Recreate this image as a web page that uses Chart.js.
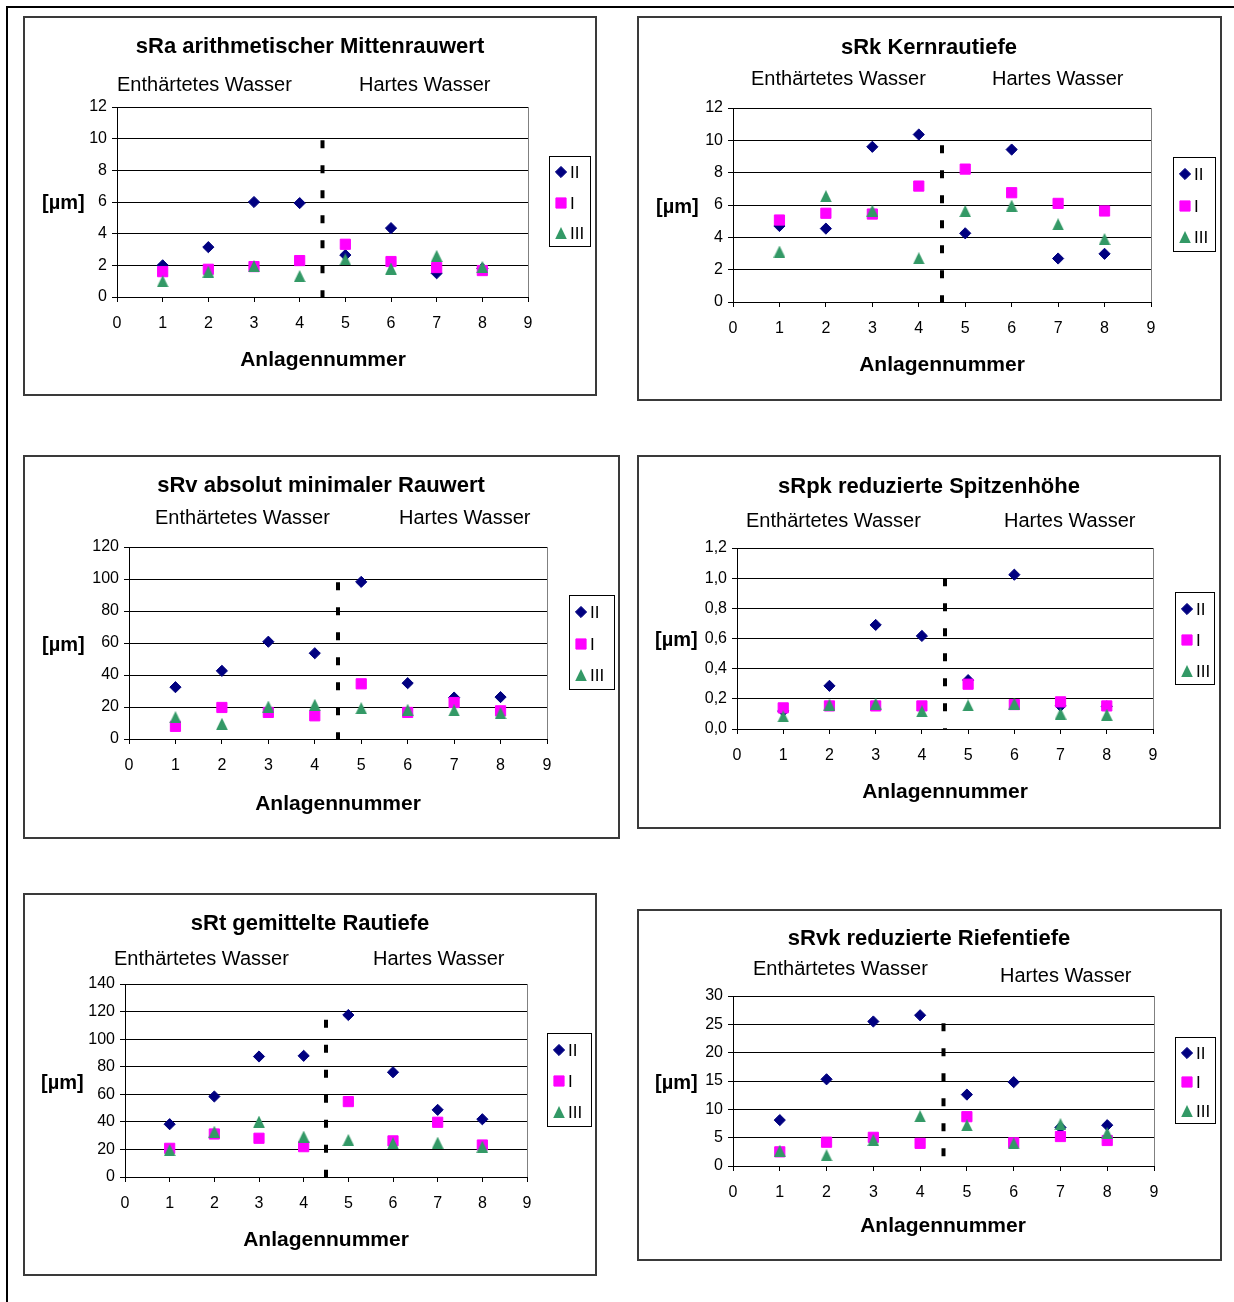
<!DOCTYPE html>
<html>
<head>
<meta charset="utf-8">
<script src="https://cdn.jsdelivr.net/npm/chart.js@4.4.1/dist/chart.umd.min.js"></script>
<style>
  html, body { margin: 0; padding: 0; background: #fff; }
  body { width: 1234px; height: 1302px; position: relative; overflow: hidden;
         font-family: 'Liberation Sans', Arial, sans-serif; color: #000; }
  .frameTop  { position: absolute; left: 6px; top: 6px; width: 1228px; height: 2px; background: #000; }
  .frameLeft { position: absolute; left: 6px; top: 6px; width: 2px; height: 1296px; background: #000; }
  .box { position: absolute; box-sizing: border-box; border: 2px solid #3a3a3a; background: #fff; }
  canvas { position: absolute; }
  .t { position: absolute; white-space: nowrap; line-height: 1; }
  .title { font-weight: bold; font-size: 22px; transform: translate(-50%, -50%); }
  .sub   { font-size: 20px; transform: translateY(-50%); }
  .ylab  { font-weight: bold; font-size: 20px; transform: translateY(-50%); }
  .xlab  { font-weight: bold; font-size: 21px; transform: translate(-50%, -50%); }
</style>
</head>
<body>
<div class="frameTop"></div>
<div class="frameLeft"></div>
<script>
// Anlagen (plants) 1-8; plants 1-4 softened water, 5-8 hard water
const anlagen = [1, 2, 3, 4, 5, 6, 7, 8];
const seriesNames = ['II', 'I', 'III'];
const xTickLabels = ['0', '1', '2', '3', '4', '5', '6', '7', '8', '9'];
const groupNames = ['Enthärtetes Wasser', 'Hartes Wasser'];
const xTitle = 'Anlagennummer';
const yTitle = '[µm]';

// sRa arithmetischer Mittenrauwert
const sRa_II  = [2.0, 3.15, 6.0, 5.93, 2.65, 4.35, 1.5, 1.8];
const sRa_I   = [1.6, 1.75, 1.92, 2.3, 3.33, 2.24, 1.86, 1.67];
const sRa_III = [1.0, 1.6, 1.95, 1.33, 2.38, 1.8, 2.6, 1.9];
const sRa_yTicks = ['0', '2', '4', '6', '8', '10', '12'];

// sRk Kernrautiefe
const sRk_II  = [4.7, 4.54, 9.6, 10.36, 4.25, 9.43, 2.69, 2.98];
const sRk_I   = [5.07, 5.49, 5.44, 7.17, 8.22, 6.76, 6.1, 5.63];
const sRk_III = [3.12, 6.55, 5.65, 2.71, 5.63, 5.96, 4.81, 3.9];
const sRk_yTicks = ['0', '2', '4', '6', '8', '10', '12'];

// sRv absolut minimaler Rauwert
const sRv_II  = [32.4, 42.6, 60.8, 53.6, 98.2, 34.9, 25.9, 26.2];
const sRv_I   = [7.9, 19.7, 16.6, 14.5, 34.5, 16.6, 22.8, 17.6];
const sRv_III = [13.7, 9.5, 20.3, 21.4, 19.3, 18.3, 17.9, 16.2];
const sRv_yTicks = ['0', '20', '40', '60', '80', '100', '120'];

// sRpk reduzierte Spitzenhöhe
const sRpk_II  = [0.12, 0.286, 0.69, 0.617, 0.324, 1.023, 0.153, 0.15];
const sRpk_I   = [0.14, 0.153, 0.153, 0.153, 0.297, 0.162, 0.18, 0.153];
const sRpk_III = [0.084, 0.162, 0.169, 0.118, 0.157, 0.169, 0.102, 0.095];
const sRpk_yTicks = ['0,0', '0,2', '0,4', '0,6', '0,8', '1,0', '1,2'];

// sRt gemittelte Rautiefe
const sRt_II  = [38.3, 58.4, 87.4, 87.9, 117.5, 76, 48.7, 41.9];
const sRt_I   = [20.8, 31.2, 28.1, 22, 54.7, 26.2, 39.7, 23.2];
const sRt_III = [19.6, 32.9, 40.2, 29.3, 26.9, 24.5, 24.9, 22];
const sRt_yTicks = ['0', '20', '40', '60', '80', '100', '120', '140'];

// sRvk reduzierte Riefentiefe
const sRvk_II  = [8.1, 15.3, 25.5, 26.6, 12.6, 14.8, 6.8, 7.2];
const sRvk_I   = [2.5, 4.2, 5.06, 4.0, 8.7, 4.1, 5.2, 4.5];
const sRvk_III = [2.7, 1.9, 4.6, 8.8, 7.2, 4.0, 7.4, 5.8];
const sRvk_yTicks = ['0', '5', '10', '15', '20', '25', '30'];

// axis ranges: [max, step]; divider between water types runs from 0 up to dividerTop
const yRanges = { ra: [12, 2], rk: [12, 2], rv: [120, 20], rpk: [1.2, 0.2], rt: [140, 20], rvk: [30, 5] };
const dividerX = 4.5;
const dividerTop = { ra: 9.9, rk: 9.7, rv: 98, rpk: 1.0, rt: 114, rvk: 25.2 };

const NAVY = '#000080', MAGENTA = '#FF00FF', GREEN = '#339966';
const FONT = "'Liberation Sans', Arial, sans-serif";

// panel layout (page pixels): box, plot area, legend rect, text anchors
const panels = [
  { key: 'ra', title: 'sRa arithmetischer Mittenrauwert', data: [sRa_II, sRa_I, sRa_III], yTicks: sRa_yTicks,
    box: [23, 16, 597, 396], plot: [117, 107, 528, 297], legend: [549, 156, 42, 91],
    titleAt: [310, 46], sub1: [117, 84], sub2: [359, 84], ylab: [42, 202], xlab: [323, 358] },
  { key: 'rk', title: 'sRk Kernrautiefe', data: [sRk_II, sRk_I, sRk_III], yTicks: sRk_yTicks,
    box: [637, 16, 1222, 401], plot: [733, 108, 1151, 302], legend: [1173, 157, 43, 95],
    titleAt: [929, 47], sub1: [751, 78], sub2: [992, 78], ylab: [656, 206], xlab: [942, 363] },
  { key: 'rv', title: 'sRv absolut minimaler Rauwert', data: [sRv_II, sRv_I, sRv_III], yTicks: sRv_yTicks,
    box: [23, 455, 620, 839], plot: [129, 547, 547, 739], legend: [569, 595, 46, 95],
    titleAt: [321, 485], sub1: [155, 517], sub2: [399, 517], ylab: [42, 644], xlab: [338, 802] },
  { key: 'rpk', title: 'sRpk reduzierte Spitzenhöhe', data: [sRpk_II, sRpk_I, sRpk_III], yTicks: sRpk_yTicks,
    box: [637, 455, 1221, 829], plot: [737, 548, 1153, 729], legend: [1175, 592, 40, 93],
    titleAt: [929, 486], sub1: [746, 520], sub2: [1004, 520], ylab: [655, 639], xlab: [945, 790] },
  { key: 'rt', title: 'sRt gemittelte Rautiefe', data: [sRt_II, sRt_I, sRt_III], yTicks: sRt_yTicks,
    box: [23, 893, 597, 1276], plot: [125, 984, 527, 1177], legend: [547, 1033, 45, 94],
    titleAt: [310, 923], sub1: [114, 958], sub2: [373, 958], ylab: [41, 1082], xlab: [326, 1238] },
  { key: 'rvk', title: 'sRvk reduzierte Riefentiefe', data: [sRvk_II, sRvk_I, sRvk_III], yTicks: sRvk_yTicks,
    box: [637, 909, 1222, 1261], plot: [733, 996, 1154, 1166], legend: [1175, 1037, 41, 87],
    titleAt: [929, 938], sub1: [753, 968], sub2: [1000, 975], ylab: [655, 1082], xlab: [943, 1224] }
];

// upright triangle marker whose box is centred on the data point
function triangleMarker(color) {
  const c = document.createElement('canvas');
  c.width = 12; c.height = 12;
  const g = c.getContext('2d');
  g.fillStyle = color;
  g.beginPath();
  g.moveTo(6, 0);
  g.lineTo(11.8, 12);
  g.lineTo(0.2, 12);
  g.closePath();
  g.fill();
  return c;
}

const markerStyles = [
  { pointStyle: 'rectRot', radius: 5.6, color: NAVY, order: 3 },
  { pointStyle: 'rect', radius: 7.2, color: MAGENTA, order: 2 },
  { pointStyle: triangleMarker(GREEN), radius: 6, color: GREEN, order: 1 }
];

// draws a framed legend at a fixed spot using the datasets' own marker styles
const boxLegend = {
  id: 'boxLegend',
  afterDraw(chart, args, opts) {
    const { ctx } = chart;
    const [x, y, w, h] = opts.rect;
    const items = chart.data.datasets.filter(d => d.legendItem);
    ctx.save();
    ctx.fillStyle = '#fff';
    ctx.fillRect(x, y, w, h);
    ctx.strokeStyle = '#000';
    ctx.lineWidth = 1;
    ctx.strokeRect(x + 0.5, y + 0.5, w - 1, h - 1);
    items.forEach((d, i) => {
      const cy = Math.round(y + h * (i + 0.5) / items.length + 1);
      const cx = x + 12;
      ctx.fillStyle = d.pointBackgroundColor;
      ctx.strokeStyle = d.pointBorderColor;
      ctx.lineWidth = 1;
      Chart.helpers.drawPoint(ctx, { pointStyle: d.pointStyle, radius: d.pointRadius, rotation: 0, borderWidth: 1 }, cx, cy);
      ctx.fillStyle = '#000';
      ctx.font = '17px ' + FONT;
      ctx.textAlign = 'left';
      ctx.textBaseline = 'middle';
      ctx.fillText(d.label, x + 21, cy + 1);
    });
    ctx.restore();
  }
};

function addText(cls, text, x, y) {
  const el = document.createElement('div');
  el.className = 't ' + cls;
  el.textContent = text;
  el.style.left = x + 'px';
  el.style.top = y + 'px';
  document.body.appendChild(el);
}

const Y_AXIS_W = 50, X_AXIS_H = 40;

panels.forEach(p => {
  const [bl, bt, br, bb] = p.box;
  const W = br - bl, H = bb - bt;
  const [pl, pt, pr, pb] = p.plot;

  const box = document.createElement('div');
  box.className = 'box';
  Object.assign(box.style, { left: bl + 'px', top: bt + 'px', width: W + 'px', height: H + 'px' });
  document.body.appendChild(box);

  const cv = document.createElement('canvas');
  cv.width = W; cv.height = H;
  Object.assign(cv.style, { left: bl + 'px', top: bt + 'px', width: W + 'px', height: H + 'px' });
  document.body.appendChild(cv);

  const [yMax, yStep] = yRanges[p.key];

  const datasets = seriesNames.map((name, s) => ({
    type: 'scatter',
    label: name,
    legendItem: true,
    data: anlagen.map((a, i) => ({ x: a, y: p.data[s][i] })),
    pointStyle: markerStyles[s].pointStyle,
    pointRadius: markerStyles[s].radius,
    pointHoverRadius: markerStyles[s].radius,
    pointBackgroundColor: markerStyles[s].color,
    pointBorderColor: markerStyles[s].color,
    pointBorderWidth: 1,
    showLine: false,
    order: markerStyles[s].order
  }));
  datasets.push({
    type: 'line',
    label: 'Trennlinie',
    data: [{ x: dividerX, y: dividerTop[p.key] }, { x: dividerX, y: 0 }],
    borderColor: '#000',
    borderWidth: 4,
    borderDash: [8, 17],
    borderCapStyle: 'butt',
    pointRadius: 0,
    fill: false,
    order: 0
  });

  new Chart(cv, {
    type: 'scatter',
    data: { datasets },
    plugins: [boxLegend],
    options: {
      responsive: false,
      animation: false,
      devicePixelRatio: 1,
      layout: { padding: { left: (pl - bl) - Y_AXIS_W, top: pt - bt, right: br - pr, bottom: (bb - pb) - X_AXIS_H } },
      plugins: {
        legend: { display: false },
        title: { display: false },
        tooltip: { enabled: false },
        boxLegend: { rect: [p.legend[0] - bl, p.legend[1] - bt, p.legend[2], p.legend[3]] }
      },
      scales: {
        x: {
          type: 'linear', position: 'bottom', min: 0, max: 9,
          ticks: { stepSize: 1, padding: 12, color: '#000', autoSkip: false,
                   font: { family: FONT, size: 16 },
                   callback: (v, i) => xTickLabels[i] },
          grid: { display: true, drawOnChartArea: true, lineWidth: 1, tickLength: 5, tickColor: '#000',
                  color: c => (c.tick && c.tick.value === 9) ? '#808080' : 'rgba(0,0,0,0)' },
          border: { display: true, color: '#000', width: 1 },
          afterFit: s => { s.height = X_AXIS_H; }
        },
        y: {
          type: 'linear', position: 'left', min: 0, max: yMax,
          ticks: { stepSize: yStep, padding: 5, color: '#000',
                   font: { family: FONT, size: 16 },
                   callback: (v, i) => p.yTicks[i] },
          grid: { display: true, color: '#000', lineWidth: 1, tickLength: 5, tickColor: '#000' },
          border: { display: true, color: '#000', width: 1 },
          afterFit: s => { s.width = Y_AXIS_W; }
        }
      }
    }
  });

  addText('title', p.title, p.titleAt[0], p.titleAt[1]);
  addText('sub', groupNames[0], p.sub1[0], p.sub1[1]);
  addText('sub', groupNames[1], p.sub2[0], p.sub2[1]);
  addText('ylab', yTitle, p.ylab[0], p.ylab[1]);
  addText('xlab', xTitle, p.xlab[0], p.xlab[1]);
});
</script>
</body>
</html>
